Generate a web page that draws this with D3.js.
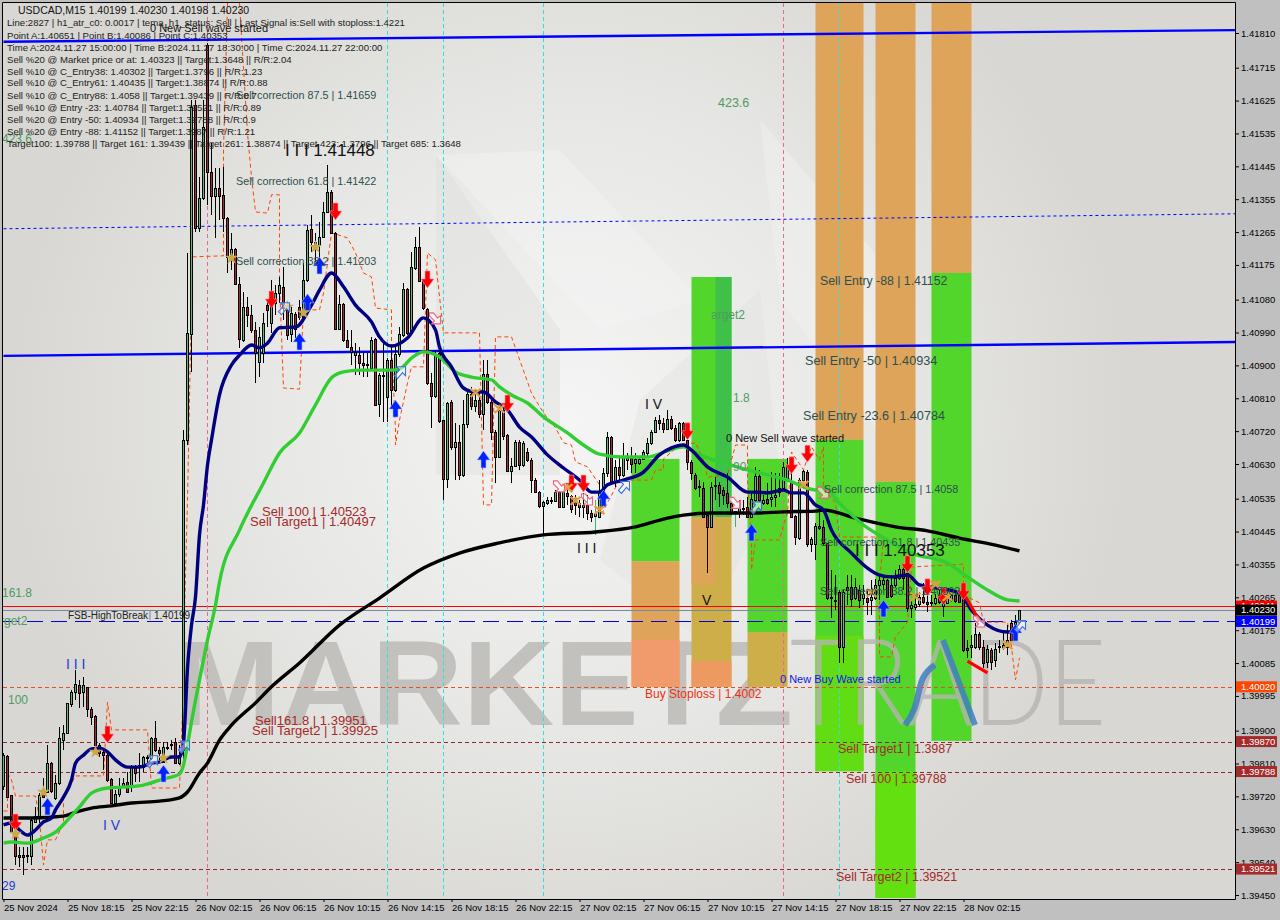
<!DOCTYPE html>
<html><head><meta charset="utf-8">
<script src="https://cdn.jsdelivr.net/npm/d3@7"></script>
<style>
html,body{margin:0;padding:0;background:#c0c0c0;overflow:hidden}
svg{display:block}
text{font-family:"Liberation Sans",Arial,sans-serif}
</style></head><body>
<svg id="c" width="1280" height="920"></svg>
<script>
// ---- prices are stored as points above 1.39000 (1230 = 1.40230)
const symbolName="USDCAD,M15";
const opens=[748,831,724,622,559,559,557,557,650,664,
729,732,811,716,757,874,894,973,1006,1025,
1006,1020,959,940,861,842,833,768,702,727,
746,759,746,798,800,800,825,825,880,847,
814,852,861,869,811,847,1696,1986,2613,2276,
2358,2777,2430,2364,2386,2367,2304,2197,2219,2123,
1970,2060,2038,1997,1909,1934,2065,2016,2071,2098,
2115,2052,1986,2041,2060,2033,2134,2274,2230,2230,
2252,2320,2375,2263,2000,2068,1970,1950,1929,1929,
1907,1901,1893,1972,1794,1871,1813,1915,1833,1931,
1983,2109,1989,2167,2224,2131,2054,1852,1816,1934,
1750,1589,1800,1677,1690,1600,1740,1822,1789,1805,
1767,1876,1800,1718,1649,1778,1710,1611,1625,1690,
1627,1663,1641,1586,1553,1515,1523,1529,1529,1553,
1512,1551,1542,1537,1523,1512,1518,1496,1488,1485,
1553,1605,1704,1581,1622,1600,1641,1646,1633,1633,
1644,1660,1688,1718,1750,1742,1726,1753,1729,1696,
1742,1696,1636,1600,1567,1564,1490,1458,1570,1573,
1559,1551,1523,1499,1499,1507,1512,1485,1531,1597,
1523,1534,1534,1540,1553,1564,1586,1581,1488,1427,
1586,1608,1411,1411,1460,1458,1414,1263,1255,1280,
1129,1293,1293,1263,1285,1263,1263,1258,1263,1299,
1301,1312,1299,1299,1318,1343,1332,1236,1238,1247,
1266,1252,1249,1249,1271,1241,1249,1258,1271,1271,
1280,1126,1129,1129,1165,1129,1088,1121,1093,1129,
1129,1129,1195,1192,1198];
const highs=[839,833,724,628,581,581,581,661,691,729,
770,861,814,779,910,915,976,1011,1066,1039,
1047,1020,965,943,866,847,847,770,737,770,
770,787,806,806,839,831,833,883,926,855,
869,869,874,880,861,1723,2208,2627,2627,2416,
2627,2783,2509,2441,2441,2443,2306,2263,2222,2142,
2101,2087,2065,2019,2005,2044,2074,2134,2120,2142,
2169,2071,2060,2046,2079,2181,2284,2312,2263,2293,
2347,2449,2380,2265,2093,2071,1997,1997,1961,1950,
1934,1934,1978,1975,1879,1970,1920,1956,1956,2005,
2126,2112,2211,2252,2279,2134,2057,1879,1942,1937,
1750,1800,1805,1742,1737,1805,1833,1841,1833,1824,
1915,1915,1805,1723,1786,1783,1712,1647,1696,1696,
1693,1674,1646,1592,1556,1529,1540,1540,1559,1556,
1556,1564,1545,1545,1531,1551,1545,1504,1531,1586,
1619,1718,1707,1641,1646,1688,1660,1677,1660,1652,
1668,1701,1723,1759,1764,1756,1778,1761,1737,1745,
1745,1696,1641,1605,1586,1581,1490,1581,1594,1581,
1567,1605,1523,1501,1531,1531,1540,1553,1622,1614,
1545,1578,1608,1605,1605,1636,1646,1625,1490,1592,
1614,1614,1430,1468,1509,1477,1414,1340,1326,1285,
1285,1326,1326,1318,1299,1299,1285,1312,1315,1326,
1323,1315,1326,1340,1354,1351,1354,1258,1271,1280,
1304,1271,1271,1274,1285,1266,1280,1285,1280,1285,
1285,1148,1162,1195,1170,1148,1134,1126,1140,1148,
1170,1189,1203,1217,1230];
const lows=[737,716,620,532,527,505,538,532,647,647,
718,729,729,710,751,847,891,965,984,962,
965,937,915,847,828,792,759,699,699,718,
743,729,732,759,759,787,806,820,842,820,
811,847,847,809,806,820,1682,1882,2265,2265,
2353,2339,2312,2249,2298,2265,2153,2161,2120,1948,
1964,2005,1989,1852,1868,1907,2005,1989,2038,2071,
2024,1970,1964,1975,2024,2030,2128,2211,2183,2175,
2249,2317,2260,1997,1997,1964,1948,1901,1874,1874,
1868,1868,1887,1789,1759,1745,1745,1786,1827,1923,
1978,1983,1986,2161,2128,2052,1846,1729,1811,1742,
1531,1564,1668,1586,1586,1594,1729,1778,1772,1756,
1723,1794,1696,1578,1646,1696,1608,1578,1622,1614,
1622,1636,1551,1551,1509,1436,1518,1520,1526,1509,
1509,1518,1496,1490,1485,1482,1477,1471,1436,1482,
1551,1594,1578,1567,1578,1594,1614,1605,1605,1627,
1641,1649,1682,1715,1723,1715,1723,1723,1690,1690,
1693,1614,1586,1559,1540,1482,1332,1455,1531,1512,
1518,1509,1490,1458,1482,1490,1482,1482,1526,1526,
1518,1518,1512,1512,1540,1559,1581,1482,1408,1422,
1581,1403,1389,1367,1449,1406,1258,1208,1230,1085,
1085,1244,1238,1258,1236,1244,1217,1217,1258,1258,
1285,1263,1263,1293,1312,1285,1225,1208,1230,1238,
1247,1225,1241,1244,1247,1211,1247,1252,1249,1249,
1115,1099,1099,1123,1121,1071,1071,1066,1074,1112,
1121,1107,1143,1176,1198];
const closes=[833,718,622,557,554,554,559,655,666,724,
718,811,735,757,880,894,976,1006,1028,1003,
1025,959,937,861,839,833,765,702,727,746,
757,732,800,784,806,828,828,880,847,839,
855,855,863,811,833,1696,1989,2608,2276,2358,
2553,2430,2364,2386,2364,2304,2197,2219,2123,1972,
2060,2038,1997,1934,1978,2016,2052,2098,2098,2120,
2057,1983,2044,2000,2033,2134,2271,2238,2238,2252,
2320,2375,2263,2000,2068,1970,1950,1937,1937,1907,
1901,1904,1970,1791,1874,1874,1915,1833,1931,1986,
2109,1989,2169,2224,2131,2057,1852,1816,1929,1748,
1589,1797,1677,1690,1600,1740,1822,1789,1805,1767,
1876,1800,1718,1649,1778,1707,1611,1625,1690,1627,
1688,1641,1586,1553,1515,1526,1531,1531,1553,1512,
1553,1542,1507,1518,1512,1518,1496,1485,1496,1553,
1605,1704,1581,1622,1600,1652,1646,1630,1644,1644,
1663,1688,1718,1750,1742,1726,1753,1729,1696,1742,
1696,1636,1605,1564,1570,1485,1458,1567,1573,1551,
1545,1523,1499,1501,1509,1509,1485,1534,1597,1531,
1531,1523,1540,1545,1564,1622,1625,1485,1430,1586,
1611,1411,1425,1460,1455,1414,1263,1266,1258,1129,
1280,1285,1260,1293,1258,1274,1252,1266,1299,1312,
1312,1266,1269,1318,1343,1318,1236,1244,1247,1266,
1252,1247,1252,1263,1252,1249,1271,1271,1255,1252,
1121,1121,1134,1165,1129,1085,1123,1088,1123,1132,
1134,1148,1148,1198,1230];

const navyBars=[0,2,4,6,8,10,12,13,15,17,18,20,22,24,26,28,31,34,37,39,42,44,45,46,47,48,49,50,51,52,54,57,59,62,64,66,69,73,77,79,82,85,88,92,94,97,101,105,108,109,112,115,118,120,123,126,129,132,136,140,144,147,149,151,155,160,164,167,170,172,176,181,186,188,191,195,197,200,203,205,207,212,216,219,222,226,229,233,239,242,246,251,254];
const navyPts=[642,647,628,614,628,650,661,683,718,765,811,833,850,852,842,820,800,800,811,814,828,828,866,1071,1189,1266,1436,1518,1627,1696,1819,1901,1928,1956,1948,1961,2003,2005,2065,2106,2153,2115,2065,2019,1978,1953,1975,2030,1997,1950,1896,1838,1827,1827,1800,1778,1731,1704,1655,1619,1586,1553,1553,1573,1586,1608,1655,1674,1682,1668,1622,1594,1553,1553,1551,1559,1551,1551,1518,1504,1449,1386,1345,1326,1321,1326,1299,1291,1277,1230,1189,1170,1176];
const greenBars=[0,2,6,10,13,16,19,22,26,31,35,40,44,45,46,47,49,51,53,54,59,65,69,74,78,82,85,89,97,99,102,105,109,113,117,122,124,127,131,135,141,145,149,155,161,166,170,174,180,186,196,203,205,209,215,221,227,236,241,246,251,254];
const greenPts=[592,595,592,606,622,655,691,729,743,746,751,768,781,806,861,924,1039,1148,1244,1307,1449,1578,1660,1715,1792,1866,1882,1887,1887,1890,1920,1937,1923,1882,1868,1860,1841,1819,1797,1759,1715,1682,1657,1649,1649,1666,1677,1655,1633,1614,1586,1559,1567,1523,1463,1422,1386,1359,1321,1285,1258,1255];
const blackBars=[0,7,15,18,22,27,32,39,44,46,49,51,54,57,63,67,74,84,94,105,114,124,135,148,158,166,170,177,188,195,203,205,213,223,231,239,248,254];
const blackPts=[661,661,666,677,688,694,702,707,716,732,784,811,874,915,976,1020,1085,1189,1263,1345,1386,1414,1436,1444,1458,1482,1490,1496,1496,1499,1501,1504,1482,1458,1447,1427,1408,1392];
const stopA=[[0,1,1,2,3,8,9,10,11,13,15,15,18,25,26,27,36,37,44,45,45,46,47,47,55,55,56],
 [680,680,784,765,721,721,658,532,601,601,647,718,776,776,978,902,902,743,743,1017,1121,1531,2087,2197,2200,2490,2892]];
const stopB=[[59,61,62,63,66,67,69,69,70,74,75,79,80,82,86,88,90,92,93,97,97,98,98,99,101,102,105,106,108,110,119,120,122,123,127,132,135,138,140,142,143,146,149,149,154,162,163,165,165,169,173,175,176,181,183,186,186,187,187,188,194,195,196,197,200,202,204,205,205,208,209,220,219,219,222,223,226,227,240,240,244,245,251,252,253,254],
 [2892,2536,2416,2320,2317,2367,2367,2126,1838,1835,2052,2052,2098,2263,2249,2208,2153,2142,2057,2052,1961,1723,1682,1750,1852,1896,1896,2208,2189,1989,1989,1518,1518,1978,1978,1824,1770,1729,1688,1682,1636,1622,1573,1482,1586,1586,1614,1614,1644,1682,1688,1641,1594,1600,1682,1682,1586,1422,1340,1422,1422,1463,1496,1663,1614,1677,1641,1677,1564,1523,1430,1430,1304,1102,1102,1156,1197,1348,1356,1271,1250,1197,1197,1129,1039,1099]];

const trendBars=[0,308];
const trendTop=[2786,2818];
const trendMid=[1926,1964];
const trendDotted=[2274,2315];

const bandStart=[157,172,186,203,218,232];
const bandEnd=[169,182,196,215,228,242];
const bandGreenTop=[1644,2142,1644,1696,1581,2153];
const bandGreenBottom=[1364,1485,1170,789,442,872];
const bandOrangeTop=[1364,1485,1170,2900,2900,2900];
const bandOrangeBottom=[1020,1020,1020,1696,1581,2153];

const levelRed=1241, levelBid=1230, levelAsk=1199;
const levelStop=1020, levelTargetA=870, levelTargetB=788, levelTargetC=521;
const timeLines=[51,96,110,135,195,209];
const timeLineKind=["p","c","c","c","p","c"];

const redArrowBars=[3,26,67,83,106,126,142,145,171,197,201,226,231,235,240];
const redArrowPts=[647,888,2079,2320,2134,1794,1575,1575,1718,1625,1657,1354,1291,1266,1280];
const blueArrowBars=[11,40,74,76,79,98,120,150,187,220,253];
const blueArrowPts=[694,784,1967,2074,2175,1783,1644,1537,1444,1236,1170];
const starBars=[3,10,23,40,57,71,75,78];
const starPts=[617,732,842,825,2194,2060,2044,2224];
const crossBars=[118,124,141,143,149,200,217,228,233,236,251];
const crossPts=[1825,1781,1564,1529,1504,1573,1277,1266,1299,1266,1134];
const pinkBars=[108,139,146,183,205,244];
const pinkPts=[2030,1570,1534,1525,1553,1200];
const hollowBars=[70,99,37,45,155,188,254];
const hollowPts=[2055,1880,815,855,1566,1510,1185];
const redLegA=[[240,244],[1277,1200]];
const redLegB=[[241,246],[1090,1058]];

const priceTicks=[1.4181,1.41715,1.41625,1.41535,1.41445,1.41355,1.41265,1.41175,1.4108,1.4099,1.409,1.4081,1.4072,1.4063,1.40535,1.40445,1.40355,1.40265,1.40175,1.40085,1.39995,1.399,1.3981,1.3972,1.3963,1.3954,1.3945];
const timeTicks=[0,16,32,48,64,80,96,112,128,144,160,176,192,208,224,240];
const timeLabels=["25 Nov 2024","25 Nov 18:15","25 Nov 22:15","26 Nov 02:15","26 Nov 06:15","26 Nov 10:15","26 Nov 14:15","26 Nov 18:15","26 Nov 22:15","27 Nov 02:15","27 Nov 06:15","27 Nov 10:15","27 Nov 14:15","27 Nov 18:15","27 Nov 22:15","28 Nov 02:15"];
const infoLines=["Line:2827 | h1_atr_c0: 0.0017 | tema_h1_status: Sell | Last Signal is:Sell with stoploss:1.4221",
"Point A:1.40651 | Point B:1.40086 | Point C:1.40353",
"Time A:2024.11.27 15:00:00 | Time B:2024.11.27 18:30:00 | Time C:2024.11.27 22:00:00",
"Sell %20 @ Market price or at: 1.40323 || Target:1.3648 || R/R:2.04",
"Sell %10 @ C_Entry38: 1.40302 || Target:1.3796 || R/R:1.23",
"Sell %10 @ C_Entry61: 1.40435 || Target:1.38874 || R/R:0.88",
"Sell %10 @ C_Entry88: 1.4058 || Target:1.39439 || R/R:0.7",
"Sell %10 @ Entry -23: 1.40784 || Target:1.39521 || R/R:0.89",
"Sell %20 @ Entry -50: 1.40934 || Target:1.39788 || R/R:0.9",
"Sell %20 @ Entry -88: 1.41152 || Target:1.3987 || R/R:1.21",
"Target100: 1.39788 || Target 161: 1.39439 || Target 261: 1.38874 || Target 423: 1.3796 || Target 685: 1.3648"];

// ---- layout
const R=1235,B=899;
const svg=d3.select("#c");
const toPrice=p=>1.39+p/1e5;
const x=d3.scaleLinear().domain([0,308]).range([3.5,1235.5]);
const y=d3.scaleLinear().domain([1.3945,1.4181]).range([895,33]);
const Y=p=>y(toPrice(p));
const n=closes.length;

const defs=svg.append("defs");
const rg=defs.append("radialGradient").attr("id","bg").attr("gradientUnits","userSpaceOnUse")
 .attr("cx",570).attr("cy",420).attr("r",560);
rg.append("stop").attr("offset","0").attr("stop-color","#f5f5f5");
rg.append("stop").attr("offset","0.55").attr("stop-color","#e7e7e5");
rg.append("stop").attr("offset","1").attr("stop-color","#d8d7d3");
defs.append("clipPath").attr("id","clip").append("rect").attr("x",3).attr("y",3).attr("width",R-3).attr("height",B-3);

svg.append("rect").attr("width",1280).attr("height",920).attr("fill","#c0c0c0");
svg.append("rect").attr("x",2).attr("y",2).attr("width",R-2).attr("height",B-2).attr("fill","url(#bg)");

const g=svg.append("g").attr("clip-path","url(#clip)");
// faint logo behind everything
[["436,155 436,475 560,475 560,330","#dddddc"],["436,155 560,150 700,300 600,330","#f4f4f3"],
 ["600,560 640,400 760,290 780,480 700,640","#e3e3e1"],["760,120 915,300 915,480 780,300","#f1f1f0"]]
 .forEach(d=>g.append("polygon").attr("points",d[0]).attr("fill",d[1]).attr("opacity",.45));

// watermark word under the bands
g.append("text").text("MARKETZ").attr("x",175).attr("y",725).attr("textLength",618).attr("lengthAdjust","spacingAndGlyphs")
 .attr("fill","#c2c1bd").style("font-weight",700).style("font-size","121px");

// bands
const bd=d3.range(bandStart.length);
g.selectAll(".bo").data(bd).join("rect").attr("x",i=>x(bandStart[i])).attr("width",i=>x(bandEnd[i])-x(bandStart[i]))
 .attr("y",i=>Y(bandOrangeTop[i])).attr("height",i=>Y(bandOrangeBottom[i])-Y(bandOrangeTop[i]))
 .attr("fill",i=>(i==1||i==2)?"#cdae48":"#dda45a");
g.selectAll(".bg").data(bd).join("rect").attr("x",i=>x(bandStart[i])).attr("width",i=>x(bandEnd[i])-x(bandStart[i]))
 .attr("y",i=>Y(bandGreenTop[i])).attr("height",i=>Y(bandGreenBottom[i])-Y(bandGreenTop[i]))
 .attr("fill","#52d62c");
// overlapped zones inside the bands
g.append("rect").attr("x",x(178)).attr("width",x(182)-x(178)).attr("y",Y(2142)).attr("height",Y(1485)-Y(2142)).attr("fill","#3fc048");
g.append("rect").attr("x",x(172)).attr("width",x(178)-x(172)).attr("y",Y(1485)).attr("height",Y(1300)-Y(1485)).attr("fill","#dda45a");
g.append("rect").attr("x",x(203)).attr("width",x(215)-x(203)).attr("y",Y(1160)).attr("height",Y(789)-Y(1160)).attr("fill","#62dd14");
g.append("rect").attr("x",x(218)).attr("width",x(228)-x(218)).attr("y",Y(789)).attr("height",Y(442)-Y(789)).attr("fill","#62e010");
g.append("rect").attr("x",x(157)).attr("width",x(169)-x(157)).attr("y",Y(1150)).attr("height",Y(1020)-Y(1150)).attr("fill","#f19a6c");
g.append("rect").attr("x",x(172)).attr("width",x(182)-x(172)).attr("y",Y(1090)).attr("height",Y(1020)-Y(1090)).attr("fill","#ec9a60");

// second watermark word over the bands
g.append("text").text("TRADE").attr("x",790).attr("y",725).attr("textLength",316).attr("lengthAdjust","spacingAndGlyphs")
 .attr("fill","#b6b5b1").attr("opacity",.8).style("font-family","Lato").style("font-weight",300).style("font-size","121px");
g.append("path").attr("d","M943 640L975 725M905 725C925 700 912 680 935 665").attr("fill","none").attr("stroke","#3f7fbf").attr("stroke-width",6).attr("opacity",.85);

// horizontal levels
const hline=(p,col,dash,w)=>g.append("line").attr("x1",3).attr("x2",R).attr("y1",Math.round(Y(p))+.5).attr("y2",Math.round(Y(p))+.5)
 .attr("stroke",col).attr("stroke-width",w||1).attr("stroke-dasharray",dash||null);
hline(levelStop,"#e8501e","4 3");
hline(levelTargetA,"#8b2a2a","4 3");hline(levelTargetB,"#8b2a2a","4 3");hline(levelTargetC,"#8b2a2a","4 3");
hline(levelAsk,"#0000e0","16 8");
hline(levelBid,"#778899");
hline(levelRed,"#ff0000");

// vertical time lines
g.selectAll(".tl").data(timeLines).join("line").attr("x1",d=>x(d)).attr("x2",d=>x(d)).attr("y1",3).attr("y2",B)
 .attr("stroke",(d,i)=>timeLineKind[i]=="p"?"#e8689c":"#2fe0e0").attr("stroke-dasharray","4 3");

// orange stop path
const line2=d3.line().x(d=>x(d[0])).y(d=>Y(d[1]));
[stopA,stopB].forEach(s=>g.append("path").attr("d",line2(d3.zip(s[0],s[1]))).attr("fill","none")
 .attr("stroke","#ff4500").attr("stroke-width",1).attr("stroke-dasharray","4 3"));

// trend lines
const tp=a=>d3.zip(trendBars,a);
g.append("path").attr("d",line2(tp(trendTop))).attr("stroke","#0000ff").attr("stroke-width",2.4).attr("fill","none");
g.append("path").attr("d",line2(tp(trendMid))).attr("stroke","#0000ff").attr("stroke-width",2.4).attr("fill","none");
g.append("path").attr("d",line2(tp(trendDotted))).attr("stroke","#0000ff").attr("stroke-width",1).attr("stroke-dasharray","3 3").attr("fill","none");

// candles
const cd=d3.range(n);
g.append("g").selectAll("line").data(cd).join("line").attr("x1",i=>x(i)).attr("x2",i=>x(i))
 .attr("y1",i=>Y(highs[i])).attr("y2",i=>Y(lows[i])).attr("stroke",i=>(i==148||i==183)?"#3cb371":"#000").attr("shape-rendering","crispEdges");
g.append("g").selectAll("rect").data(cd).join("rect").attr("x",i=>x(i)-1).attr("width",2)
 .attr("y",i=>Math.round(Y(Math.max(opens[i],closes[i])))+.5)
 .attr("height",i=>Math.max(1,Math.round(Y(Math.min(opens[i],closes[i]))-Y(Math.max(opens[i],closes[i])))))
 .attr("fill",i=>closes[i]>=opens[i]?"#3ccb7c":"#b81f3e").attr("stroke","#000").attr("shape-rendering","crispEdges");

// indicator lines
const ind=(b,p,c,w)=>g.append("path").attr("d",d3.line().x(d=>x(d[0])).y(d=>Y(d[1])).curve(d3.curveMonotoneX)(d3.zip(b,p)))
 .attr("fill","none").attr("stroke",c).attr("stroke-width",w).attr("stroke-linejoin","round");
ind(blackBars,blackPts,"#000",3.4);
ind(greenBars,greenPts,"#32cd32",3.4);
ind(navyBars,navyPts,"#000080",3.4);
[redLegA,redLegB].forEach(s=>g.append("path").attr("d",line2(d3.zip(s[0],s[1]))).attr("stroke","#ff0000").attr("stroke-width",3.2).attr("fill","none"));

// markers
const arrowDown="M-2.5-9H2.5V-1H6.5L0,8L-6.5-1H-2.5Z", arrowUp="M-2.5,9H2.5V1H6.5L0-8L-6.5,1H-2.5Z";
const at=(b,p)=>`translate(${x(b)},${Y(p)})`;
g.selectAll(".ra").data(redArrowBars).join("path").attr("d",arrowDown).attr("transform",(d,i)=>at(d,redArrowPts[i]))
 .attr("fill","#ff0000").attr("stroke","#ff9fb0").attr("stroke-width",.6);
g.selectAll(".ba").data(blueArrowBars).join("path").attr("d",arrowUp).attr("transform",(d,i)=>at(d,blueArrowPts[i]))
 .attr("fill","#0020ff").attr("stroke","#9fc0ff").attr("stroke-width",.6);
const star=d3.symbol().type(d3.symbolStar).size(55);
g.selectAll(".st").data(starBars).join("path").attr("d",star).attr("transform",(d,i)=>at(d,starPts[i])).attr("fill","#c8a848");
g.selectAll(".cr").data(crossBars).join("path").attr("d","M-5-4L5,4M-5,4L5-4M0-4V-2").attr("transform",(d,i)=>at(d,crossPts[i]))
 .attr("stroke","#e0a040").attr("stroke-width",2.2).attr("fill","none");
g.selectAll(".pk").data(pinkBars).join("path").attr("d","M-6-5L-2-5L2,0L5-2L5,6L-4,6L-1,3L-6-2Z").attr("transform",(d,i)=>at(d,pinkPts[i]))
 .attr("fill","#fff").attr("fill-opacity",.6).attr("stroke","#f0607c").attr("stroke-width",1.1);
g.selectAll(".hb").data(hollowBars).join("path").attr("d","M6-6L-3-6L0-3L-5,3L-2,6L3,0L6,3Z").attr("transform",(d,i)=>at(d,hollowPts[i]))
 .attr("fill","#fff").attr("fill-opacity",.5).attr("stroke","#3a70e0").attr("stroke-width",1.1);

// labels: [text, x, y, colour, size]
const slate="#2f4f4f", brick="#a52a2a", lime="#4f9a62";
const labels=[
["FSB-HighToBreak",68,615,"#222",10],["1.40199",154,615,"#222",10],
["423.6",718,103,lime,12.5],["arget2",711,315,lime,12],["1.8",733,398,lime,12],["90",733,467,lime,12],
["161.8",2,593,lime,12],["rget2",0,621,lime,12],["100",8,700,lime,12],["423.6",2,139,lime,12],["29",2,886,"#1a3fd0",12],
["0 New Sell wave started",150,28,"#111",11],["0 New Sell wave started",726,438,"#111",11],
["Sell correction 87.5 | 1.41659",236,95,slate,10.8],["Sell correction 61.8 | 1.41422",236,181,slate,10.8],["Sell correction 38.2 | 1.41203",236,261,slate,10.8],
["Sell correction 87.5 | 1.4058",824,489,slate,10.8],["Sell correction 61.8 | 1.40435",820,542,slate,10.8],["Sell correction 38.2 | 1.40302",820,591,slate,10.8],
["Sell Entry -88 | 1.41152",820,281,slate,12.3],["Sell Entry -50 | 1.40934",805,361,slate,12.7],["Sell Entry -23.6 | 1.40784",803,416,slate,12.6],
["Sell 100 | 1.40523",262,511,brick,13],["Sell Target1 | 1.40497",250,521,brick,13],
["Sell161.8 | 1.39951",255,720,brick,13],["Sell Target2 | 1.39925",252,730,brick,13],
["Sell Target1 | 1.3987",838,749,brick,12.5],["Sell 100 | 1.39788",846,779,brick,12.5],["Sell Target2 | 1.39521",836,877,brick,12.5],
["Buy Stoploss | 1.4002",645,694,"#f03010",12],["0 New Buy Wave started",780,679,"#1414e6",11],
["I I I 1.41448",285,150,"#111",17],["I I I 1.40353",855,550,"#111",17],
["I V",645,404,"#111",14],["I I I",577,548,"#111",14],["V",702,600,"#111",14],["I I I",66,664,"#1a3fd0",14],["I V",103,825,"#1a3fd0",14]];
g.selectAll(".lb").data(labels).join("text").text(d=>d[0]).attr("x",d=>d[1]).attr("y",d=>d[2]).attr("dy",".35em")
 .attr("fill",d=>d[3]).style("font-size",d=>d[4]+"px");
g.append("line").attr("x1",150).attr("x2",150).attr("y1",610).attr("y2",620).attr("stroke","#778899");

// info block
g.append("text").text(`${symbolName}  1.40199 1.40230 1.40198 1.40230`).attr("x",18).attr("y",10).attr("dy",".35em").attr("fill","#111").style("font-size","10.5px");
const infoY=[23,36,48,60,72,83,96,108,120,132,144];
g.selectAll(".inf").data(infoLines).join("text").text(d=>d).attr("x",7).attr("y",(d,i)=>infoY[i]).attr("dy",".35em").attr("fill","#222").style("font-size","9.6px");

// axes
const ax=svg.append("g").attr("transform",`translate(${R},0)`).call(d3.axisRight(y).tickValues(priceTicks).tickFormat(d3.format(".5f")).tickSize(4).tickPadding(2));
ax.selectAll("text").attr("fill","#000").style("font-size","9.5px");
ax.select(".domain").remove();
const bx=svg.append("g").attr("transform",`translate(0,${B})`).call(d3.axisBottom(x).tickValues(timeTicks).tickFormat((d,i)=>timeLabels[i]).tickSize(3).tickPadding(2));
bx.selectAll("text").attr("fill","#000").style("font-size","9.5px").attr("text-anchor","start");
bx.select(".domain").remove();
svg.append("path").attr("d",`M2.5,2.5H${R}.5V${B}.5H2.5Z`).attr("fill","none").attr("stroke","#000");

// price tags, painted in order so later tags cover earlier ones
const tagVals=[1241,1230,1199,1020,870,788,521];
const tagFill=["#ff0000","#000000","#0000ff","#ff4500","#a52a2a","#a52a2a","#a52a2a"];
tagVals.forEach((d,i)=>{
 svg.append("rect").attr("x",1236).attr("width",41).attr("y",Y(d)-5.5).attr("height",11).attr("fill",tagFill[i]);
 svg.append("text").text(d3.format(".5f")(toPrice(d))).attr("x",1241).attr("y",Y(d)).attr("dy",".35em").attr("fill","#fff").style("font-size","9.5px");
});
</script></body></html>
